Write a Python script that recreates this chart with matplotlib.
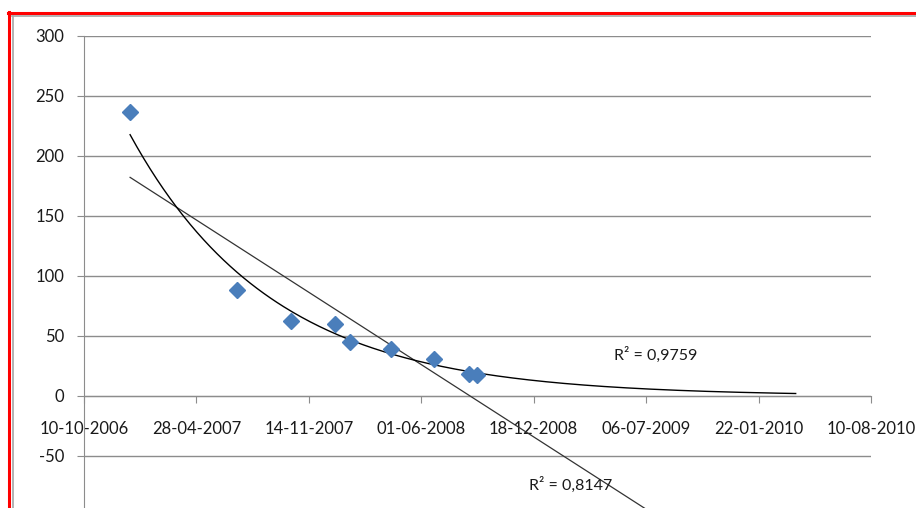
import numpy as np
import pandas as pd
import matplotlib
matplotlib.use("Agg")
import matplotlib.pyplot as plt
import matplotlib.dates as mdates
from matplotlib.lines import Line2D

# data
dates = ["2006-12-31", "2007-07-09", "2007-10-14", "2007-12-31", "2008-01-27",
         "2008-04-08", "2008-06-23", "2008-08-25", "2008-09-08"]
values = [236.5, 88, 62.5, 60, 45, 39.4, 30.6, 18.3, 17.8]
trend_end = "2010-03-29"
tick_labels = ["10-10-2006", "28-04-2007", "14-11-2007", "01-06-2008",
               "18-12-2008", "06-07-2009", "22-01-2010", "10-08-2010"]
r2_exp = "R² = 0,9759"
r2_lin = "R² = 0,8147"

plt.rcParams['font.family'] = ['Lato', 'DejaVu Sans']
plt.rcParams['axes.unicode_minus'] = False

x = mdates.date2num(pd.to_datetime(dates))
y = np.array(values)

# trendlines (linear and exponential, as Excel fits them)
lin = np.polyfit(x, y, 1)
ex = np.polyfit(x, np.log(y), 1)
xt = np.linspace(x[0], mdates.date2num(pd.Timestamp(trend_end)), 300)

fig = plt.figure(figsize=(9.16, 5.08), dpi=100)
W, H = 916, 508
ax = fig.add_axes([84 / W, (H - 516) / H, (871 - 84) / W, 480 / H])

ax.set_ylim(-100, 300)
ticks = mdates.date2num(pd.to_datetime(tick_labels, format="%d-%m-%Y"))
ax.set_xlim(ticks[0], ticks[-1])
ax.set_xticks(ticks)
ax.set_xticklabels(tick_labels)
ax.set_yticks(np.arange(-50, 301, 50))
ax.yaxis.grid(True, color='#8c8c8c', lw=1)
ax.set_axisbelow(True)

for s in ['top', 'right']:
    ax.spines[s].set_visible(False)
ax.spines['left'].set_color('#8c8c8c')
ax.spines['bottom'].set_position(('data', 0))
ax.spines['bottom'].set_color('#8c8c8c')

ax.tick_params(axis='x', direction='out', length=5, color='#8c8c8c', pad=13,
               labelsize=12, labelcolor='#1a1a1a')
ax.tick_params(axis='y', direction='out', length=5, color='#8c8c8c', pad=9,
               labelsize=12, labelcolor='#1a1a1a')

ax.plot(xt, np.polyval(lin, xt), color='#333333', lw=0.9, zorder=3)
ax.plot(xt, np.exp(np.polyval(ex, xt)), color='black', lw=1.0, zorder=3)
ax.plot(x, y, 'D', color='#4a7ebb', markersize=8.5, zorder=4, clip_on=False)

ax.text(mdates.date2num(pd.Timestamp("2009-05-10")), 34, r2_exp, fontsize=11.5,
        color='#1a1a1a', va='center')
ax.text(mdates.date2num(pd.Timestamp("2008-12-09")), -74, r2_lin, fontsize=11.5,
        color='#1a1a1a', va='center')

# frame borders like the original screenshot
fig.add_artist(Line2D([8 / W, 1], [1 - 12.5 / H] * 2, color='#ff0000', lw=2.2))
fig.add_artist(Line2D([8.5 / W] * 2, [0, 1 - 12 / H], color='#ff0000', lw=2.2))
fig.add_artist(Line2D([12 / W, 1], [1 - 15.5 / H] * 2, color='#a6a6a6', lw=1.2))
fig.add_artist(Line2D([12.5 / W] * 2, [0, 1 - 15.5 / H], color='#a6a6a6', lw=1.2))

fig.savefig("out.png", dpi=100)
